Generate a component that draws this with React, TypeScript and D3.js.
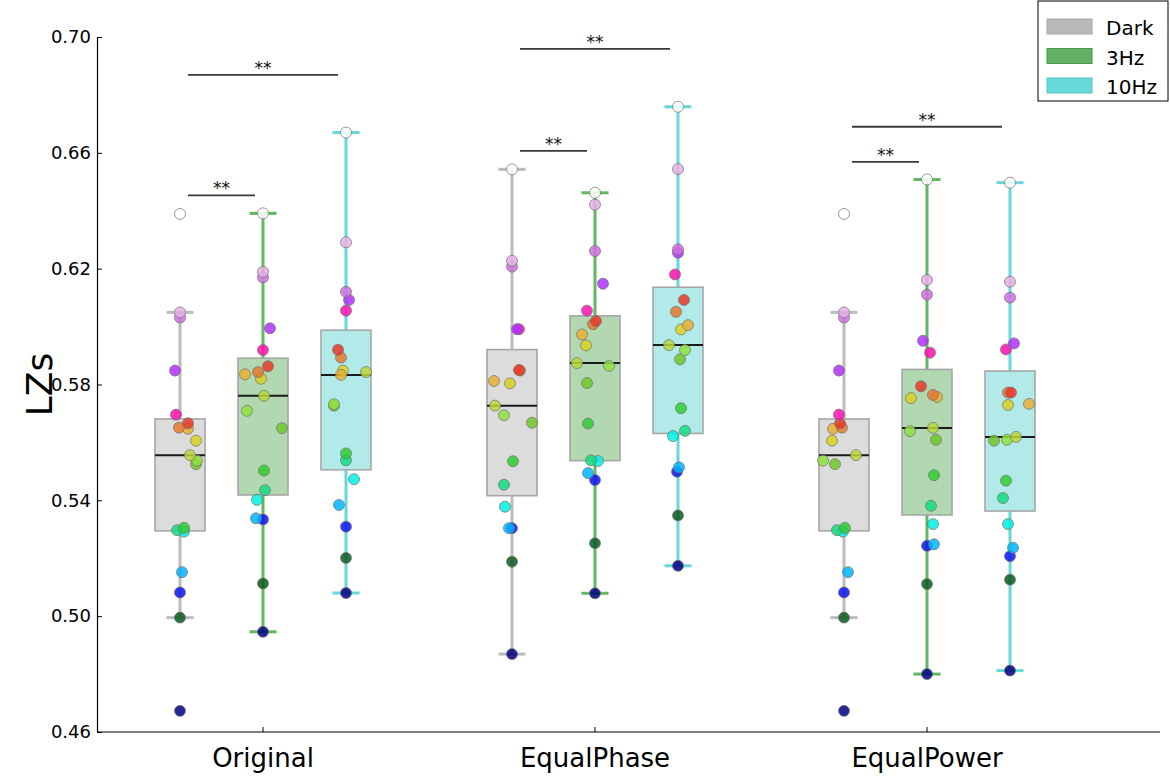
import React, { useRef, useEffect } from 'react';
import * as d3 from 'd3';

// categories
const groups = ['Original', 'EqualPhase', 'EqualPower'];
const conditions = ['Dark', '3Hz', '10Hz'];
const yTicks = [0.46, 0.50, 0.54, 0.58, 0.62, 0.66, 0.70];

// one colour per subject (ordered by the Dark/Original value)
const subjectColors = [
  '#000080', '#0a5a1e', '#0a14f0', '#00b4ff', '#00f0e0', '#14dc80', '#30cc30',
  '#70c828', '#90e040', '#b8d838', '#d8d020', '#e8b030', '#e87830', '#e83828',
  '#ff10b0', '#b030ff', '#d070e0', '#e8b0e8', '#ffffff'
];

// LZs per subject, per group and condition
const origDark = [0.4673, 0.4995, 0.5082, 0.5152, 0.5292, 0.5297, 0.5305, 0.5525, 0.5537, 0.5556, 0.5606, 0.5647, 0.5651, 0.5666, 0.5696, 0.5848, 0.6031, 0.6049, 0.6389];
const orig3Hz = [0.4946, 0.5113, 0.5334, 0.5338, 0.5402, 0.5435, 0.5503, 0.5649, 0.5709, 0.5761, 0.5820, 0.5835, 0.5843, 0.5863, 0.5919, 0.5994, 0.6170, 0.6189, 0.6391];
const orig10Hz = [0.5080, 0.5201, 0.5309, 0.5384, 0.5473, 0.5538, 0.5562, 0.5727, 0.5732, 0.5843, 0.5848, 0.5833, 0.5893, 0.5920, 0.6055, 0.6092, 0.6120, 0.6291, 0.6670];
const phaseDark = [0.4869, 0.5188, 0.5304, 0.5304, 0.5378, 0.5454, 0.5535, 0.5668, 0.5694, 0.5727, 0.5804, 0.5812, 0.5848, 0.5850, 0.5991, 0.5991, 0.6207, 0.6227, 0.6543];
const phase3Hz = [0.5079, 0.5252, 0.5470, 0.5494, 0.5536, 0.5538, 0.5665, 0.5805, 0.5864, 0.5874, 0.5935, 0.5973, 0.6008, 0.6019, 0.6055, 0.6148, 0.6261, 0.6421, 0.6462];
const phase10Hz = [0.5174, 0.5348, 0.5499, 0.5514, 0.5622, 0.5640, 0.5718, 0.5887, 0.5919, 0.5936, 0.5990, 0.6005, 0.6051, 0.6092, 0.6180, 0.6255, 0.6267, 0.6544, 0.6759];
const powerDark = [0.4673, 0.4995, 0.5082, 0.5152, 0.5292, 0.5297, 0.5305, 0.5525, 0.5537, 0.5556, 0.5606, 0.5647, 0.5651, 0.5666, 0.5696, 0.5848, 0.6031, 0.6049, 0.6389];
const power3Hz = [0.4800, 0.5111, 0.5243, 0.5248, 0.5318, 0.5381, 0.5487, 0.5609, 0.5639, 0.5650, 0.5753, 0.5757, 0.5764, 0.5794, 0.5910, 0.5951, 0.6110, 0.6161, 0.6508];
const power10Hz = [0.4812, 0.5126, 0.5207, 0.5236, 0.5318, 0.5408, 0.5468, 0.5606, 0.5609, 0.5619, 0.5729, 0.5733, 0.5772, 0.5772, 0.5921, 0.5942, 0.6100, 0.6155, 0.6497];

// horizontal jitter of each point, as a fraction of box width
const jitOrigDark = [0, 0, 0, 0.04, 0.08, -0.06, 0.08, 0.32, 0.34, 0.2, 0.32, 0.16, -0.02, 0.16, -0.08, -0.1, 0, 0, 0];
const jitOrig3Hz = [0, 0, 0, -0.14, -0.12, 0.04, 0.02, 0.38, -0.32, 0.02, -0.04, -0.36, -0.1, 0.1, 0, 0.14, 0, 0, 0];
const jitOrig10Hz = [0, 0, 0, -0.14, 0.16, 0, 0, -0.24, -0.24, 0.4, -0.06, -0.1, -0.1, -0.16, 0, 0.06, 0, 0, 0];
const jitPhaseDark = [0, 0, 0, -0.06, -0.14, -0.16, 0.02, 0.4, -0.16, -0.34, -0.04, -0.36, 0.16, 0.14, 0.14, 0.1, 0, 0, 0];
const jitPhase3Hz = [0, 0, 0, -0.14, 0.06, -0.08, -0.14, -0.16, 0.28, -0.36, -0.18, -0.26, -0.04, 0.02, -0.16, 0.16, 0, 0, 0];
const jitPhase10Hz = [0, 0, -0.02, 0.02, -0.1, 0.14, 0.06, 0.04, 0.14, -0.18, 0.06, 0.2, -0.04, 0.12, -0.06, 0, 0, 0, 0];
const jitPowerDark = [0, 0, 0, 0.08, -0.02, -0.14, 0.02, -0.18, -0.42, 0.24, -0.24, -0.22, -0.04, -0.08, -0.1, -0.1, 0, 0, 0];
const jitPower3Hz = [0, 0, 0, 0.14, 0.12, 0.08, 0.14, 0.18, -0.34, 0.12, -0.32, 0.2, 0.12, -0.12, 0.06, -0.08, 0, 0, 0];
const jitPower10Hz = [0, 0, 0, 0.06, -0.04, -0.14, -0.08, -0.32, -0.06, 0.12, -0.04, 0.38, -0.04, 0.02, -0.08, 0.08, 0, 0, 0];

// significance bars (Dark vs target condition)
const sigGroup = ['Original', 'Original', 'EqualPhase', 'EqualPhase', 'EqualPower', 'EqualPower'];
const sigTarget = ['3Hz', '10Hz', '3Hz', '10Hz', '3Hz', '10Hz'];
const sigLevel = [0.6453, 0.6869, 0.6607, 0.6959, 0.6569, 0.6690];
const sigLabel = ['**', '**', '**', '**', '**', '**'];

const condStyle = {
  Dark: { fill: '#dcdcdc', line: '#bcbcbc', patch: '#b9b9b9', patchEdge: '#a8a8a8' },
  '3Hz': { fill: '#b2d8b2', line: '#62b862', patch: '#63b163', patchEdge: '#4a9a4a' },
  '10Hz': { fill: '#b2eaea', line: '#66d8d8', patch: '#66d9d9', patchEdge: '#55c4c4' }
};

const seriesTable = [
  { group: 'Original', cond: 'Dark', values: origDark, jitter: jitOrigDark },
  { group: 'Original', cond: '3Hz', values: orig3Hz, jitter: jitOrig3Hz },
  { group: 'Original', cond: '10Hz', values: orig10Hz, jitter: jitOrig10Hz },
  { group: 'EqualPhase', cond: 'Dark', values: phaseDark, jitter: jitPhaseDark },
  { group: 'EqualPhase', cond: '3Hz', values: phase3Hz, jitter: jitPhase3Hz },
  { group: 'EqualPhase', cond: '10Hz', values: phase10Hz, jitter: jitPhase10Hz },
  { group: 'EqualPower', cond: 'Dark', values: powerDark, jitter: jitPowerDark },
  { group: 'EqualPower', cond: '3Hz', values: power3Hz, jitter: jitPower3Hz },
  { group: 'EqualPower', cond: '10Hz', values: power10Hz, jitter: jitPower10Hz }
];

const FONT = 'DejaVu Sans';

function App() {
  const svgRef = useRef(null);

  useEffect(() => {
    const svg = d3.select(svgRef.current);
    svg.selectAll('*').remove();

    const left = 97, right = 1160, top = 37, bottom = 732;
    const boxWidth = 50;

    const y = d3.scaleLinear().domain([0.46, 0.70]).range([bottom, top]);
    const xGroup = d3.scaleBand().domain(groups).range([left, 1093]);
    const bw = xGroup.bandwidth();
    const xCond = d3.scalePoint().domain(conditions).range([bw * 0.25, bw * 0.75]);
    const cx = (g, c) => xGroup(g) + xCond(c);

    // boxes
    const boxes = svg.append('g');
    seriesTable.forEach(s => {
      const st = condStyle[s.cond];
      const sorted = s.values.slice().sort(d3.ascending);
      const q1 = d3.quantile(sorted, 0.25);
      const med = d3.quantile(sorted, 0.5);
      const q3 = d3.quantile(sorted, 0.75);
      const iqr = q3 - q1;
      const lo = d3.min(sorted.filter(v => v >= q1 - 1.5 * iqr));
      const hi = d3.max(sorted.filter(v => v <= q3 + 1.5 * iqr));
      const x0 = cx(s.group, s.cond);
      const g = boxes.append('g');

      g.append('line')
        .attr('x1', x0).attr('x2', x0)
        .attr('y1', y(q3)).attr('y2', y(hi))
        .attr('stroke', st.line).attr('stroke-width', 3);
      g.append('line')
        .attr('x1', x0).attr('x2', x0)
        .attr('y1', y(q1)).attr('y2', y(lo))
        .attr('stroke', st.line).attr('stroke-width', 3);
      [lo, hi].forEach(v => {
        g.append('line')
          .attr('x1', x0 - boxWidth * 0.27).attr('x2', x0 + boxWidth * 0.27)
          .attr('y1', y(v)).attr('y2', y(v))
          .attr('stroke', st.line).attr('stroke-width', 3);
      });
      g.append('rect')
        .attr('x', x0 - boxWidth / 2).attr('width', boxWidth)
        .attr('y', y(q3)).attr('height', y(q1) - y(q3))
        .attr('fill', st.fill)
        .attr('stroke', '#a6a6a6').attr('stroke-width', 1.6);
      g.append('line')
        .attr('x1', x0 - boxWidth / 2).attr('x2', x0 + boxWidth / 2)
        .attr('y1', y(med)).attr('y2', y(med))
        .attr('stroke', '#1a1a1a').attr('stroke-width', 2);
    });

    // subject points
    const pts = svg.append('g');
    seriesTable.forEach(s => {
      const x0 = cx(s.group, s.cond);
      pts.selectAll(null)
        .data(s.values.map((v, i) => ({ v, i })))
        .enter().append('circle')
        .attr('cx', d => x0 + s.jitter[d.i] * boxWidth)
        .attr('cy', d => y(d.v))
        .attr('r', 5.5)
        .attr('fill', d => subjectColors[d.i])
        .attr('fill-opacity', 0.85)
        .attr('stroke', '#707070')
        .attr('stroke-opacity', 0.7)
        .attr('stroke-width', 1);
    });

    // significance bars
    const sig = svg.append('g');
    sigGroup.forEach((gName, i) => {
      const x1 = cx(gName, 'Dark') + 8;
      const x2 = cx(gName, sigTarget[i]) - 8;
      sig.append('line')
        .attr('x1', x1).attr('x2', x2)
        .attr('y1', y(sigLevel[i])).attr('y2', y(sigLevel[i]))
        .attr('stroke', '#3a3a3a').attr('stroke-width', 1.8);
      sig.append('text')
        .attr('x', (x1 + x2) / 2)
        .attr('y', y(sigLevel[i]) - 1)
        .attr('text-anchor', 'middle')
        .style('font', `17px "${FONT}"`)
        .attr('fill', '#111')
        .text(sigLabel[i]);
    });

    // y axis
    svg.append('g')
      .attr('transform', `translate(${left},0)`)
      .call(d3.axisLeft(y).tickValues(yTicks).tickFormat(d3.format('.2f')).tickSizeInner(-5).tickSizeOuter(0).tickPadding(6))
      .call(g => g.select('.domain').attr('stroke', '#000').attr('stroke-width', 1.2))
      .call(g => g.selectAll('.tick line').attr('stroke', '#000'))
      .call(g => g.selectAll('.tick text').style('font', `18px "${FONT}"`).attr('fill', '#000'));

    // x axis
    svg.append('g')
      .attr('transform', `translate(0,${bottom})`)
      .call(d3.axisBottom(xGroup).tickSizeInner(-5).tickSizeOuter(0).tickPadding(16.5))
      .call(g => g.select('.domain').remove())
      .call(g => g.selectAll('.tick line').attr('stroke', '#000'))
      .call(g => g.selectAll('.tick text').style('font', `26px "${FONT}"`).attr('fill', '#000'));
    svg.append('line')
      .attr('x1', left).attr('x2', right)
      .attr('y1', bottom).attr('y2', bottom)
      .attr('stroke', '#000').attr('stroke-width', 1.2);

    // y label
    svg.append('text')
      .attr('transform', `translate(52,${(top + bottom) / 2}) rotate(-90)`)
      .attr('text-anchor', 'middle')
      .style('font', `36px "${FONT}"`)
      .text('LZs');

    // legend
    const leg = svg.append('g').attr('transform', 'translate(1038,1)');
    leg.append('rect')
      .attr('width', 130).attr('height', 100)
      .attr('fill', '#fff').attr('stroke', '#000').attr('stroke-width', 1);
    conditions.forEach((c, i) => {
      leg.append('rect')
        .attr('x', 9).attr('y', 18 + i * 29.5)
        .attr('width', 45).attr('height', 15)
        .attr('fill', condStyle[c].patch)
        .attr('stroke', condStyle[c].patchEdge).attr('stroke-width', 1);
      leg.append('text')
        .attr('x', 68).attr('y', 34 + i * 29.5)
        .style('font', `20px "${FONT}"`)
        .text(c);
    });
  }, []);

  return (
    <svg ref={svgRef} width={1170} height={776}
      style={{ position: 'absolute', left: 0, top: 0, background: '#fff' }}></svg>
  );
}

export default App;
